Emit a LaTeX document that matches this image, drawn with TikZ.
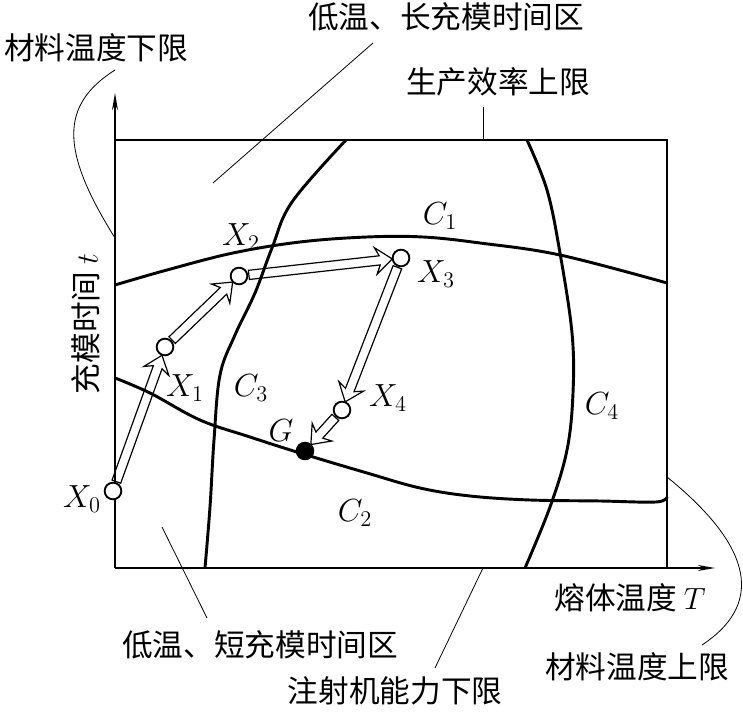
\documentclass[tikz,border=0pt]{standalone}
\usepackage{fix-cm}
\usepackage{fontspec}
\newfontfamily\cjk{Noto Sans CJK SC}
\usetikzlibrary{arrows.meta,shapes.arrows,calc}

\begin{document}
\begin{tikzpicture}[x=0.75pt, y=-0.75pt,
  txt/.style={font=\cjk\fontsize{23}{26}\selectfont, inner sep=0pt},
  sym/.style={font=\fontsize{24}{27}\selectfont, inner sep=0pt},
  state/.style={circle, draw, fill=white, line width=1.4pt, minimum size=12.5pt, inner sep=0pt},
  goal/.style={state, fill=black},
  bound/.style={line width=2.2pt, line join=round},
  leader/.style={line width=0.6pt},
  frame/.style={line width=1.1pt},
  move/.style={single arrow, draw, line width=0.9pt, inner sep=3pt,
    single arrow head extend=6.5pt, single arrow tip angle=77,
    single arrow head indent=3pt, anchor=tail}]
  \useasboundingbox (0,0) rectangle (743,712);

  \coordinate (o) at (115,568);
  \coordinate (yend) at (115,93);
  \coordinate (xend) at (715,568);
  \coordinate (tl) at (115,140);
  \coordinate (tr) at (667,140);
  \coordinate (br) at (667,568);
  \draw[frame, -{Stealth[length=13pt, width=4.5pt]}] (o) -- (yend);
  \draw[frame, -{Stealth[length=13pt, width=4.5pt]}] (o) -- (xend);
  \draw[frame] (tl) -- (tr) -- (br);

  \draw[bound] plot[smooth, tension=0.6] coordinates {(115,285) (167,270) (233,253) (300,242) (367,237) (423,237) (480,243) (560,255) (667,283)};
  \draw[bound] plot[smooth, tension=0.6] coordinates {(115,378) (150,393) (200,420) (250,437) (300,453) (367,473) (420,488) (470,496) (530,500) (600,501) (656,502) (667,497)};
  \draw[bound] plot[smooth, tension=0.6] coordinates {(205,568) (210,507) (214,440) (220,375) (235,335) (255,293) (272,248) (292,202) (346,140)};
  \draw[bound] plot[smooth, tension=0.6] coordinates {(525,568) (550,507) (567,450) (573,393) (572,333) (560,253) (547,190) (527,140)};

  \node[txt] (ltop) at (446,17) {低温、长充模时间区};
  \node[txt] (lmin) at (96,48) {材料温度下限};
  \node[txt] (leff) at (498,82) {生产效率上限};
  \node[txt, rotate=90] (ly) at (86,324) {充模时间 $t$};
  \node[txt] (lx) at (630,598) {熔体温度 $T$};
  \node[txt] (lbot) at (260,645) {低温、短充模时间区};
  \node[txt] (lmax) at (637,667) {材料温度上限};
  \node[txt] (linj) at (395,691) {注射机能力下限};

  \coordinate (a1) at (115,238);
  \coordinate (b1) at (115,70);
  \coordinate (a2) at (213,183);
  \coordinate (b2) at (373,43);
  \coordinate (a3) at (483,140);
  \coordinate (b3) at (483,107);
  \coordinate (a4) at (162,527);
  \coordinate (b4) at (207,618);
  \coordinate (a5) at (483,568);
  \coordinate (b5) at (435,668);
  \coordinate (a6) at (667,477);
  \coordinate (b6) at (702,645);
  \draw[leader] (a1) .. controls (60,150) and (60,105) .. (b1);
  \draw[leader] (a2) -- (b2);
  \draw[leader] (a3) -- (b3);
  \draw[leader] (a4) -- (b4);
  \draw[leader] (a5) -- (b5);
  \draw[leader] (a6) .. controls (745,540) and (770,600) .. (b6);

  \node[state] (x0) at (113,491) {};
  \node[state] (x1) at (165,347) {};
  \node[state] (x2) at (239,276) {};
  \node[state] (x3) at (401,258) {};
  \node[state] (x4) at (342,410) {};
  \node[goal] (g) at (305,451) {};

  \foreach \a/\b in {x0/x1, x1/x2, x2/x3, x3/x4, x4/g}
    \path let \p1=($(\a)!7pt!(\b)$), \p2=($(\b)!7pt!(\a)$), \p3=($(\p2)-(\p1)$) in
      node[move, rotate={atan2(\y3,\x3)}, minimum height={veclen(\x3,\y3)}] at (\p1) {};

  \node[sym] (lx0) at (82,499) {$X_0$};
  \node[sym] (lx1) at (185,388) {$X_1$};
  \node[sym] (lx2) at (241,237) {$X_2$};
  \node[sym] (lx3) at (436,274) {$X_3$};
  \node[sym] (lx4) at (388,398) {$X_4$};
  \node[sym] (lg) at (281,431) {$G$};
  \node[sym] (lc1) at (440,216) {$C_1$};
  \node[sym] (lc2) at (355,513) {$C_2$};
  \node[sym] (lc3) at (251,388) {$C_3$};
  \node[sym] (lc4) at (602,406) {$C_4$};
\end{tikzpicture}
\end{document}
